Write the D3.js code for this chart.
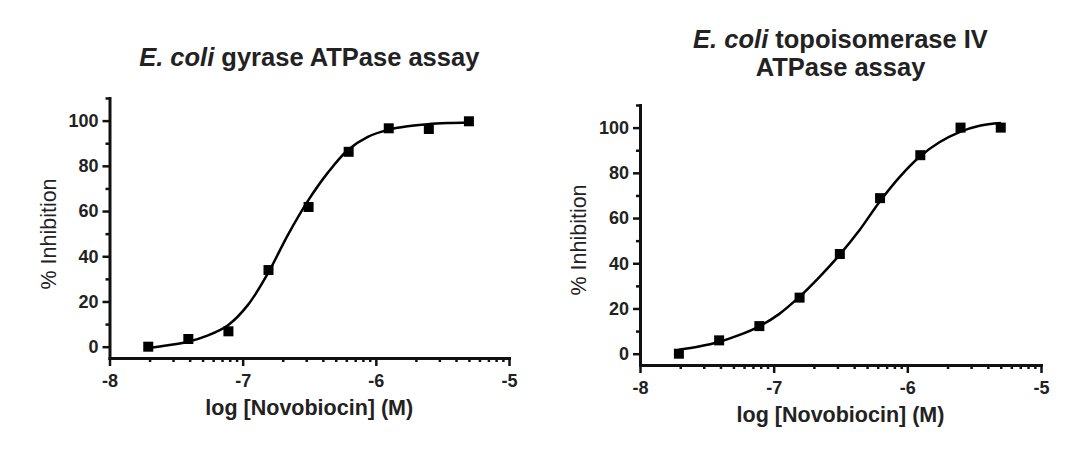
<!DOCTYPE html>
<html>
<head>
<meta charset="utf-8">
<script src="https://cdn.jsdelivr.net/npm/d3@7"></script>
<style>
  body { margin: 0; background: #fff; }
  svg { display: block; font-family: "Liberation Sans", Arial, sans-serif; }
  .fit { fill: none; stroke: #000; stroke-width: 2.5; }
</style>
</head>
<body>
<svg width="1088" height="467"></svg>
<script>
// log10 concentration of novobiocin (M), 2-fold dilutions
var logConc = [-7.709, -7.408, -7.107, -6.806, -6.505, -6.204, -5.903, -5.602, -5.301];
var gyraseInhib = [0, 3.4, 6.8, 33.9, 61.8, 86.2, 96.6, 96.3, 99.7];
var topoInhib = [0, 5.9, 12.2, 24.8, 44.1, 68.8, 87.8, 100, 100];

// fitted curves
var fitConc = [-7.71, -7.56, -7.41, -7.26, -7.11, -6.96, -6.81, -6.66, -6.51, -6.36, -6.21, -6.06, -5.91, -5.76, -5.61, -5.46, -5.30];
var gyraseFit = [-0.6, 0.6, 2.2, 5.0, 9.5, 18.5, 32.5, 49.5, 64.5, 77.0, 87.0, 92.8, 95.9, 97.5, 98.4, 98.9, 99.2];
var topoFit = [1.8, 3.2, 5.2, 8.2, 12.0, 17.5, 25.0, 33.8, 43.5, 54.5, 67.0, 78.0, 87.0, 93.5, 98.0, 100.8, 102.0];

var xTicks = [-8, -7, -6, -5];
var yTicks = [0, 20, 40, 60, 80, 100];
var yMinorTicks = [10, 30, 50, 70, 90, 110];
var xLabel = "log [Novobiocin] (M)";
var yLabel = "% Inhibition";

var svg = d3.select("svg");

// minor log ticks inside each decade
var xMinorTicks = [];
xTicks.slice(0, -1).forEach(function(t) {
  d3.range(2, 10).forEach(function(k) { xMinorTicks.push(t + Math.log10(k)); });
});

function styleAxis(sel) {
  sel.attr("font-family", "Liberation Sans, Arial, sans-serif");
  sel.selectAll(".domain")
      .attr("stroke", "#111")
      .attr("stroke-width", 3)
      .attr("stroke-linecap", "square");
  sel.selectAll(".tick line")
      .attr("stroke", "#111")
      .attr("stroke-width", 2.5);
  sel.selectAll(".tick text")
      .attr("font-size", 18)
      .attr("font-weight", "bold")
      .attr("fill", "#222");
}

function panel(opt) {
  var x = d3.scaleLinear().domain([-8, -5]).range([opt.left, opt.right]),
      y = d3.scaleLinear().domain([-5, 110]).range([opt.bottom, opt.top]);

  var g = svg.append("g");

  g.append("g")
      .attr("transform", "translate(0," + opt.bottom + ")")
      .call(d3.axisBottom(x).tickValues(xMinorTicks).tickSize(4).tickFormat("").tickSizeOuter(0))
      .call(styleAxis)
      .select(".domain").remove();

  g.append("g")
      .attr("transform", "translate(0," + opt.bottom + ")")
      .call(d3.axisBottom(x).tickValues(xTicks).tickSize(8).tickSizeOuter(0).tickPadding(4)
        .tickFormat(function(d) { return d; }))
      .call(styleAxis)
    .selectAll("text")
      .attr("dy", "0.95em");

  g.append("g")
      .attr("transform", "translate(" + opt.left + ",0)")
      .call(d3.axisLeft(y).tickValues(yMinorTicks).tickSize(4).tickFormat("").tickSizeOuter(0))
      .call(styleAxis)
      .select(".domain").remove();

  g.append("g")
      .attr("transform", "translate(" + opt.left + ",0)")
      .call(d3.axisLeft(y).tickValues(yTicks).tickSize(7).tickSizeOuter(0).tickPadding(4))
      .call(styleAxis);

  var line = d3.line()
      .x(function(d) { return x(d[0]); })
      .y(function(d) { return y(d[1]); })
      .curve(d3.curveCatmullRom);

  g.append("path")
      .datum(d3.zip(fitConc, opt.fit))
      .attr("class", "fit")
      .attr("d", line);

  g.selectAll(".pt")
    .data(d3.zip(logConc, opt.values))
    .enter().append("rect")
      .attr("class", "pt")
      .attr("x", function(d) { return x(d[0]) - 5; })
      .attr("y", function(d) { return y(d[1]) - 5; })
      .attr("width", 10)
      .attr("height", 10)
      .attr("fill", "#000");

  g.append("text")
      .attr("x", (opt.left + opt.right) / 2)
      .attr("y", opt.bottom + 57)
      .attr("text-anchor", "middle")
      .attr("font-size", 21.5)
      .attr("font-weight", "bold")
      .attr("fill", "#222")
      .text(xLabel);

  g.append("text")
      .attr("transform", "translate(" + (opt.left - 54) + "," + opt.ylabelY + ") rotate(-90)")
      .attr("text-anchor", "middle")
      .attr("font-size", 21.5)
      .attr("fill", "#222")
      .text(yLabel);

  var title = g.append("text")
      .attr("text-anchor", "middle")
      .attr("font-size", 25.5)
      .attr("font-weight", "bold")
      .attr("fill", "#222");

  opt.title.forEach(function(lineParts, i) {
    lineParts.forEach(function(p, j) {
      var ts = title.append("tspan").text(p.text);
      if (j == 0) ts.attr("x", (opt.left + opt.right) / 2).attr("y", opt.titleY + i * 28);
      if (p.italic) ts.attr("font-style", "italic");
    });
  });
}

panel({
  left: 109.5, right: 509, top: 98, bottom: 358,
  values: gyraseInhib, fit: gyraseFit,
  ylabelY: 234, titleY: 66,
  title: [[{text: "E. coli", italic: true}, {text: " gyrase ATPase assay"}]]
});

panel({
  left: 640, right: 1041, top: 105, bottom: 365,
  values: topoInhib, fit: topoFit,
  ylabelY: 240, titleY: 48,
  title: [[{text: "E. coli", italic: true}, {text: " topoisomerase IV"}], [{text: "ATPase assay"}]]
});
</script>
</body>
</html>
